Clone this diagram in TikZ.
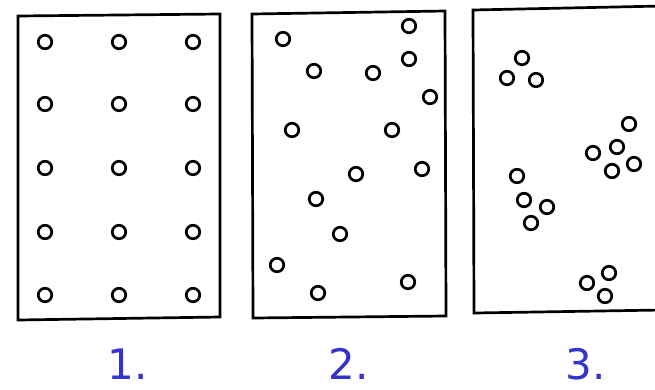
\documentclass[tikz,border=0pt]{standalone}
\usepackage{fontspec}
\newfontfamily\labelfont{DejaVu Sans}
\definecolor{labelblue}{RGB}{52,52,204}
\begin{document}
\begin{tikzpicture}[x=1pt,y=-1pt,
  panel/.style={draw=black,line width=2.7pt,line join=miter},
  dot/.style={circle,draw=black,line width=2.7pt,minimum size=13.5pt,inner sep=0pt},
  numlabel/.style={anchor=base,text=labelblue,font=\labelfont\fontsize{42}{46}\selectfont,inner sep=0pt}]
\useasboundingbox (0,0) rectangle (655,389);
\fill[white] (0,0) rectangle (655,389);
% panels
\draw[panel] (18,16) -- (220,14) -- (220,317) -- (18,320) -- cycle;
\draw[panel] (252,14) -- (445,11) -- (446,316) -- (253,318) -- cycle;
\draw[panel] (662,6) -- (473,10) -- (474,313) -- (662,310);
% panel 1: regular grid
\foreach \x [count=\i] in {45,119,193}{
  \foreach \y [count=\j] in {42,104,168,232,295}{
    \node[dot] (a\i\j) at (\x,\y) {};
  }
}
% panel 2: random
\foreach \x/\y [count=\k] in {283/39,409/26,409/59,314/71,373/73,430/97,292/130,392/130,356/174,422/169,316/199,340/234,277/265,318/293,408/282}{
  \node[dot] (b\k) at (\x,\y) {};
}
% panel 3: clustered
\foreach \x/\y [count=\k] in {522/58,507/78,536/80,629/124,617/147,593/153,634/164,612/171,517/176,524/200,547/207,531/223,609/273,587/283,605/296}{
  \node[dot] (c\k) at (\x,\y) {};
}
% labels
\node[numlabel] (l1) at (128,379) {1.};
\node[numlabel] (l2) at (349,379) {2.};
\node[numlabel] (l3) at (586,379) {3.};
\end{tikzpicture}
\end{document}
